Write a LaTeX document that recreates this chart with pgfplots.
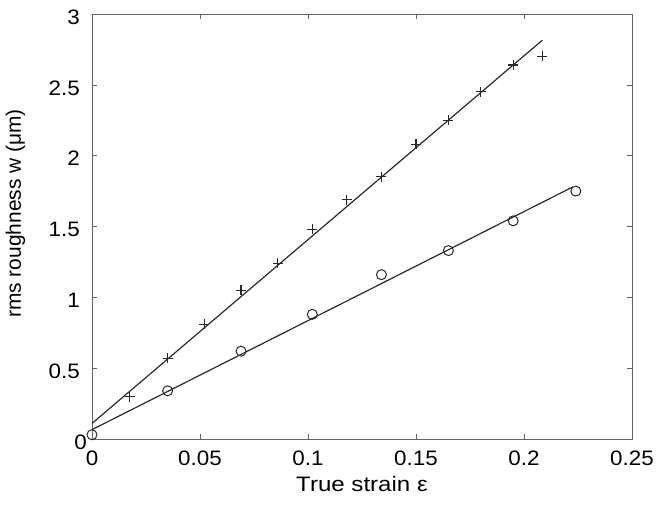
\documentclass[border=0pt]{standalone}
\usepackage{pgfplots}
\pgfplotsset{compat=1.18}
\usepackage{fontspec}
\setmainfont{Liberation Sans}
\newfontfamily\tickfont[FakeStretch=1.07]{Liberation Sans}
\newfontfamily\xlabfont[FakeStretch=1.15]{Liberation Sans}
\definecolor{ink}{HTML}{2A2A2A}
\definecolor{axcol}{HTML}{666666}
\begin{document}
\begin{tikzpicture}
\begin{axis}[
  name=ax,
  scale only axis,
  width=540bp, height=425bp,
  xmin=0, xmax=0.25, ymin=0, ymax=3,
  xtick={0,0.05,0.1,0.15,0.2,0.25},
  ytick={0,0.5,1,1.5,2,2.5,3},
  xticklabels={0,0.05,0.1,0.15,0.2,0.25},
  yticklabels={0\hspace*{-7bp},0.5,1,1.5,2,2.5,3},
  tick align=inside,
  major tick length=5bp,
  tick style={axcol, line width=0.6pt},
  axis line style={axcol, line width=0.9pt},
  ticklabel style={font=\tickfont\fontsize{21}{24}\selectfont, text=black, inner sep=0pt},
  xticklabel style={anchor=base, yshift=-26bp},
  yticklabel style={anchor=east, xshift=-12bp, yshift=-3bp},
  xlabel={True strain ε},
  ylabel={rms roughness w (μm)},
  xlabel style={font=\xlabfont\fontsize{21}{24}\selectfont, inner sep=0pt, anchor=base,
    at={([yshift=-52bp]axis description cs:0.5,0)}},
  ylabel style={font=\fontsize{21}{24}\selectfont, inner sep=0pt, anchor=base,
    at={([shift={(-71bp,13bp)}]axis description cs:0,0.5)}},
  clip=false,
]
\addplot[only marks, mark=+, mark size=5bp, ink, line width=1.1pt] coordinates {
  (0.0175,0.30) (0.035,0.57) (0.052,0.81) (0.069,1.05) (0.086,1.24)
  (0.102,1.48) (0.118,1.69) (0.134,1.85) (0.150,2.08) (0.165,2.25)
  (0.180,2.45) (0.195,2.64) (0.2085,2.70)
};
\addplot[ink, line width=1.2pt] coordinates {(0,0.11) (0.2085,2.815)};
\addplot[only marks, mark=o, mark size=5bp, ink, line width=1pt] coordinates {
  (0,0.03) (0.035,0.34) (0.069,0.62) (0.102,0.88) (0.134,1.16)
  (0.165,1.33) (0.195,1.54) (0.224,1.75)
};
\addplot[ink, line width=1.2pt] coordinates {(0,0.066) (0.2227,1.78)};
\end{axis}
\pgfresetboundingbox
\path[use as bounding box] ([shift={(-92bp,-69bp)}]ax.south west) rectangle ([shift={(24bp,14bp)}]ax.north east);
\end{tikzpicture}
\end{document}
